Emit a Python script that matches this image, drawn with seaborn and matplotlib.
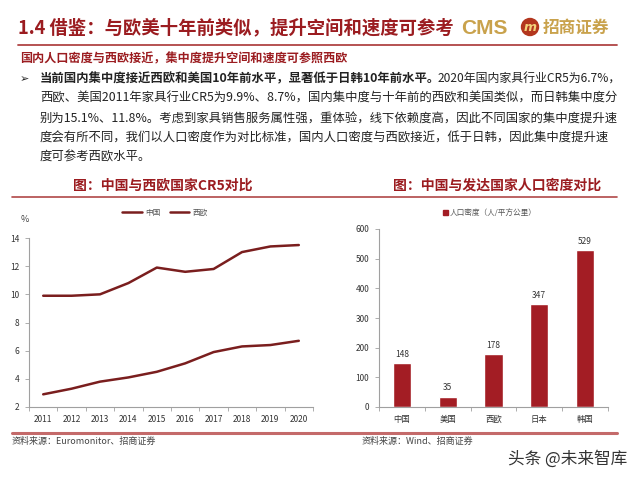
import pandas as pd
import matplotlib.pyplot as plt
from matplotlib.patches import Ellipse, Rectangle
from matplotlib.lines import Line2D
import seaborn as sns

# 数据
years = [2011, 2012, 2013, 2014, 2015, 2016, 2017, 2018, 2019, 2020]
china_cr5 = [2.9, 3.3, 3.8, 4.1, 4.5, 5.1, 5.9, 6.3, 6.4, 6.7]
weu_cr5 = [9.9, 9.9, 10.0, 10.8, 11.9, 11.6, 11.8, 13.0, 13.4, 13.5]
series_names = ['中国', '西欧']

countries = ['中国', '美国', '西欧', '日本', '韩国']
density = [148, 35, 178, 347, 529]
density_label = '人口密度（人/平方公里）'

sns.set_style('white')
plt.rcParams['font.family'] = ['Noto Sans CJK SC', 'DejaVu Sans']
plt.rcParams['axes.unicode_minus'] = False

RED = '#9b1c20'
LINE_RED = '#7a1e1e'
BAR_RED = '#a31d24'
GOLD = '#c9a24c'
GRAY = '#a0a0a0'
TXT = '#222222'

fig = plt.figure(figsize=(6.4, 4.8), dpi=100)


def fx(px):
    return px / 640


def fy(py):
    return 1 - py / 480


# ---- 页眉 ----
fig.text(fx(18), fy(28), '1.4 借鉴：与欧美十年前类似，提升空间和速度可参考',
         fontsize=13.2, fontweight='bold', color=RED, va='center')
fig.text(fx(461), fy(28), 'CMS', fontsize=15, fontweight='bold', color=GOLD,
         va='center', family='Liberation Sans')
fig.add_artist(Ellipse((fx(530), fy(27)), 17 / 640, 17 / 480,
                       transform=fig.transFigure, color='#b3361e'))
fig.text(fx(530), fy(27.5), 'm', fontsize=9, fontweight='bold', style='italic',
         color='#f3d27a', ha='center', va='center', family='DejaVu Sans')
fig.text(fx(543), fy(28), '招商证券', fontsize=12, fontweight='bold', color=GOLD, va='center')
fig.add_artist(Line2D([fx(18), fx(617)], [fy(45), fy(45)], color='#b04444', lw=1.3))

fig.text(fx(20), fy(59), '国内人口密度与西欧接近，集中度提升空间和速度可参照西欧',
         fontsize=8.7, fontweight='bold', color=RED, va='center')

# ---- 正文 ----
fig.text(fx(20), fy(79), '➢', fontsize=8, color=TXT, va='center')
t1 = fig.text(fx(40), fy(79), '当前国内集中度接近西欧和美国10年前水平，显著低于日韩10年前水平。',
              fontsize=8.9, fontweight='bold', color=TXT, va='center')
fig.canvas.draw()
bb = t1.get_window_extent()
fig.text(bb.x1 / fig.bbox.width - 0.004, fy(79), '2020年国内家具行业CR5为6.7%，',
         fontsize=8.6, color=TXT, va='center')

body = [
    '西欧、美国2011年家具行业CR5为9.9%、8.7%，国内集中度与十年前的西欧和美国类似，而日韩集中度分',
    '别为15.1%、11.8%。考虑到家具销售服务属性强，重体验，线下依赖度高，因此不同国家的集中度提升速',
    '度会有所不同，我们以人口密度作为对比标准，国内人口密度与西欧接近，低于日韩，因此集中度提升速',
    '度可参考西欧水平。',
]
for i, line in enumerate(body):
    fig.text(fx(40), fy(98.5 + 19.6 * i), line, fontsize=8.9, color=TXT, va='center')

# ---- 图标题与分隔线 ----
fig.text(fx(163), fy(186), '图：中国与西欧国家CR5对比', fontsize=10, fontweight='bold',
         color=RED, ha='center', va='center')
fig.text(fx(497), fy(186), '图：中国与发达国家人口密度对比', fontsize=10, fontweight='bold',
         color=RED, ha='center', va='center')
fig.add_artist(Line2D([fx(12), fx(617)], [fy(197), fy(197)], color='#b04848', lw=1.2))
fig.add_artist(Line2D([fx(12), fx(617)], [fy(433), fy(433)], color='#c46a6a', lw=2.2))

# ---- 左图：CR5 折线 ----
ax1 = fig.add_axes([fx(29), fy(407), (313 - 29) / 640, (407 - 238) / 480])
df_cr5 = pd.DataFrame({
    '年份': years * 2,
    'CR5': china_cr5 + weu_cr5,
    '地区': [series_names[0]] * len(years) + [series_names[1]] * len(years),
})
sns.lineplot(data=df_cr5, x='年份', y='CR5', hue='地区',
             palette=[LINE_RED, LINE_RED], linewidth=1.8, ax=ax1)
ax1.set_xlim(years[0] - 0.5, years[-1] + 0.5)
ax1.set_ylim(2, 14)
ax1.set_yticks(range(2, 15, 2))
ax1.set_xticks(years)
ax1.set_xticks([y - 0.5 for y in years] + [years[-1] + 0.5], minor=True)
ax1.set_xlabel('')
ax1.set_ylabel('')
leg1 = ax1.legend(loc='center', bbox_to_anchor=(0.479, 1.148), ncol=2, frameon=False,
                  fontsize=5.5, handlelength=2.6, columnspacing=1.2, handletextpad=0.4)
for t in leg1.get_texts():
    t.set_color('#555555')
fig.text(fx(25), fy(220), '%', fontsize=6.5, color='#444444', ha='center', va='center')

# ---- 右图：人口密度柱状 ----
ax2 = fig.add_axes([fx(379), fy(407), (608 - 379) / 640, (407 - 229) / 480])
sns.barplot(x=countries, y=density, color=BAR_RED, width=0.4, saturation=1, ax=ax2)
ax2.set_xlim(-0.5, len(countries) - 0.5)
ax2.set_ylim(0, 600)
ax2.set_yticks(range(0, 601, 100))
ax2.set_xticks([i - 0.5 for i in range(len(countries) + 1)], minor=True)
ax2.bar_label(ax2.containers[0], fontsize=6, color='#333333', padding=3)
leg2 = ax2.legend([Rectangle((0, 0), 1, 1, color=BAR_RED)], [density_label], loc='center',
                  bbox_to_anchor=(0.485, 1.09), frameon=False, fontsize=5.5,
                  handlelength=0.6, handleheight=0.6, handletextpad=0.3)
for t in leg2.get_texts():
    t.set_color('#555555')

for ax in (ax1, ax2):
    sns.despine(ax=ax)
    for s in ('left', 'bottom'):
        ax.spines[s].set_color(GRAY)
        ax.spines[s].set_linewidth(0.8)
    ax.tick_params(axis='y', length=3, width=0.6, color=GRAY, labelsize=6,
                   labelcolor='#333333', pad=4, left=True)
    ax.tick_params(axis='x', which='major', length=0, labelsize=6,
                   labelcolor='#333333', pad=6)
    ax.tick_params(axis='x', which='minor', length=3, width=0.6, color=GRAY, bottom=True)
    ax.grid(False)

# ---- 资料来源 ----
fig.text(fx(12), fy(441), '资料来源：Euromonitor、招商证券', fontsize=6.5, color='#444444', va='center')
fig.text(fx(362), fy(441), '资料来源：Wind、招商证券', fontsize=6.5, color='#444444', va='center')
fig.text(fx(508), fy(459), '头条 @未来智库', fontsize=12, color='#333333', va='center')

fig.savefig('out.png', dpi=100)
